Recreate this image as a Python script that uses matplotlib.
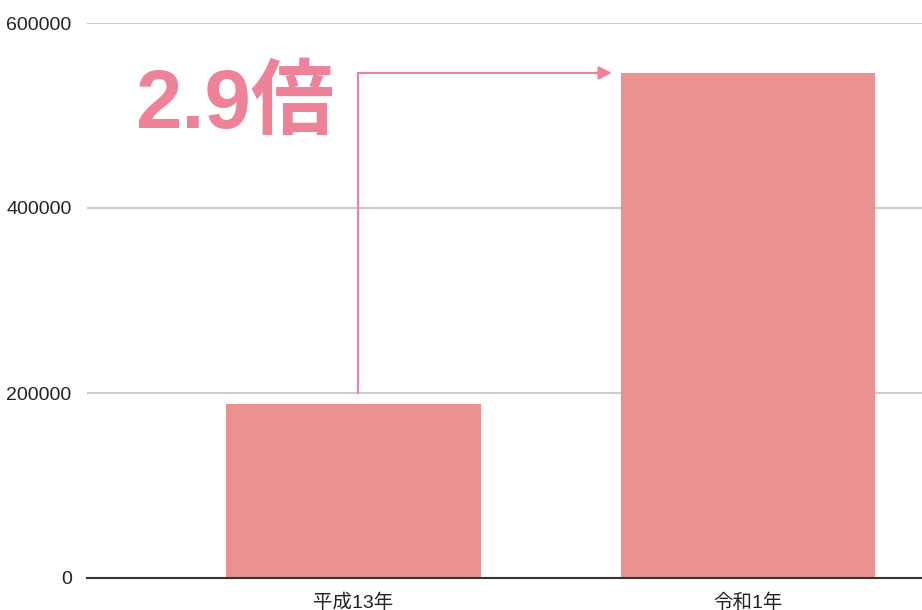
import matplotlib.pyplot as plt

plt.rcParams['font.family'] = ['Liberation Sans', 'Noto Sans CJK JP', 'DejaVu Sans']

# 年度ごとの値
labels = ['平成13年', '令和1年']
values = [188000, 546000]
ratio_text = '2.9倍'
yticks = [0, 200000, 400000, 600000]

bar_color = '#EC9190'
pink = '#EE8299'

fig = plt.figure(figsize=(9.22, 6.1), dpi=100)
ax = fig.add_axes([87 / 922, 32 / 610, 835 / 922, 555 / 610])

x = list(range(len(labels)))
ax.bar(x, values, width=0.646, color=bar_color, zorder=3)

ax.set_xlim(-0.6755, 1.441)
ax.set_ylim(0, 600000)
ax.set_yticks(yticks)
ax.set_yticklabels([str(v) for v in yticks], fontsize=14, color='#222222')
ax.set_xticks(x)
ax.set_xticklabels(labels, fontsize=14, color='#222222')
ax.tick_params(length=0)
ax.tick_params(axis='y', pad=11)
ax.tick_params(axis='x', pad=11)

for s in ['top', 'right', 'left']:
    ax.spines[s].set_visible(False)
ax.spines['bottom'].set_color('#333333')
ax.spines['bottom'].set_linewidth(1.5)
ax.spines['bottom'].set_zorder(4)
ax.grid(axis='y', color='#CCCCCC', linewidth=1.5, zorder=0)
ax.set_axisbelow(True)

# 倍率の矢印
x0 = x[0] + 0.0114
ax.plot([x0, x0], [200000, values[1]], color=pink, linewidth=1.5, zorder=5, clip_on=False)
ax.annotate('', xy=(0.655, values[1]), xytext=(x0, values[1]),
            arrowprops=dict(arrowstyle='-|>', color=pink, lw=1.5, mutation_scale=20,
                            shrinkA=0, shrinkB=0), zorder=5)

ax.text(-0.553, 486000, ratio_text, fontsize=60, fontweight='bold', color=pink,
        ha='left', va='baseline', family=['Liberation Sans', 'Noto Sans CJK JP'])

fig.savefig('out.png', dpi=100)
